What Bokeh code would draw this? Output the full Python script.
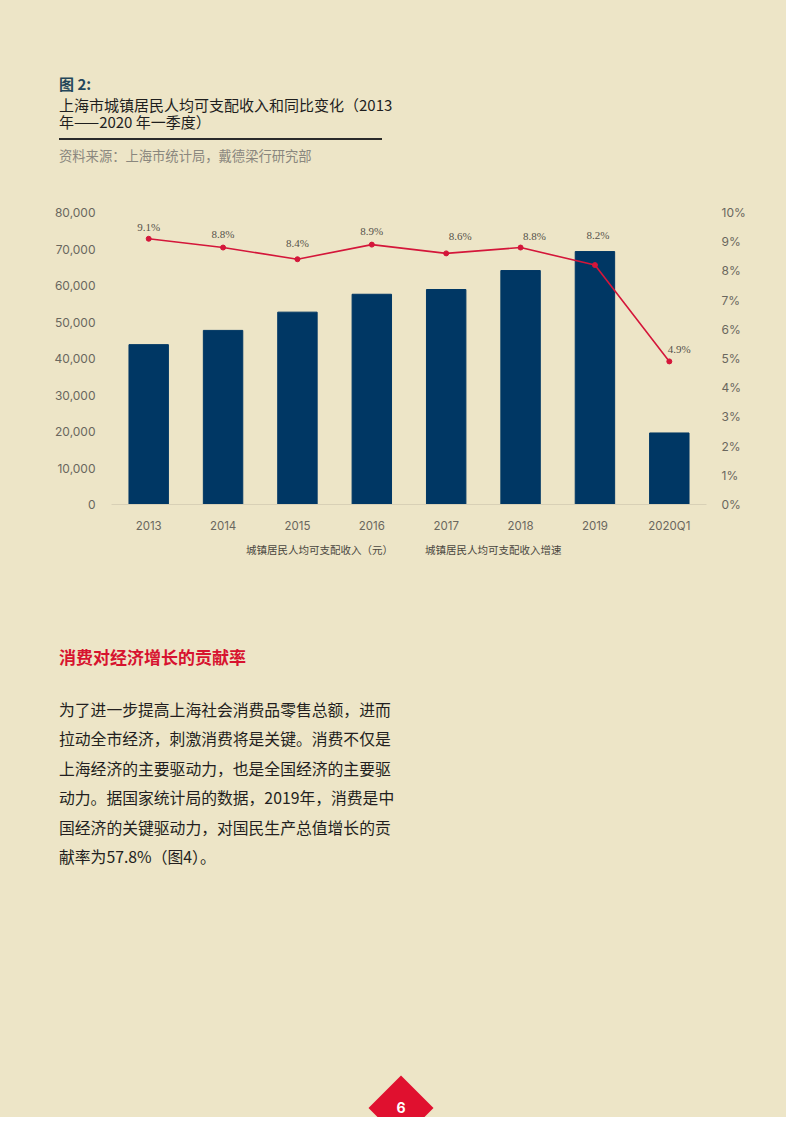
from bokeh.plotting import figure
from bokeh.layouts import column
from bokeh.models import (Range1d, LinearAxis, NumeralTickFormatter, PrintfTickFormatter,
                          FixedTicker, ColumnDataSource, LabelSet, Legend, LegendItem, Div,
                          CDSView, IndexFilter)
from bokeh.embed import file_html
from bokeh.resources import INLINE

# ---------------- data ----------------
categories = ["2013", "2014", "2015", "2016", "2017", "2018", "2019", "2020Q1"]
income = [43800, 47700, 52700, 57600, 58900, 64100, 69300, 19600]
growth = [9.1, 8.8, 8.4, 8.9, 8.6, 8.8, 8.2, 4.9]
growth_labels = ["9.1%", "8.8%", "8.4%", "8.9%", "8.6%", "8.8%", "8.2%", "4.9%"]
left_ticks = [0, 10000, 20000, 30000, 40000, 50000, 60000, 70000, 80000]
right_ticks = [0, 1, 2, 3, 4, 5, 6, 7, 8, 9, 10]
series_names = ["城镇居民人均可支配收入（元）", "城镇居民人均可支配收入增速"]

fig_label = "图 2:"
title_lines = ["上海市城镇居民人均可支配收入和同比变化（2013", "年——2020 年一季度）"]
source_text = "资料来源：上海市统计局，戴德梁行研究部"
section_title = "消费对经济增长的贡献率"
body_lines = [
    "为了进一步提高上海社会消费品零售总额，进而",
    "拉动全市经济，刺激消费将是关键。消费不仅是",
    "上海经济的主要驱动力，也是全国经济的主要驱",
    "动力。据国家统计局的数据，2019年，消费是中",
    "国经济的关键驱动力，对国民生产总值增长的贡",
    "献率为57.8%（图4）。",
]
page_number = "6"

# label offsets (style only)
label_dx = [0, 0, 0, 0, 14, 14, 3, 10]
label_dy = [6, 8, 10, 8, 11, 6, 24, 6]

# ---------------- style ----------------
BG = "#ede5c7"
NAVY = "#003764"
RED = "#d4163a"
TICK = "#6a675e"
CJK = "Noto Sans CJK SC"
NUM = "Inter"

W, H = 786, 1117
TOP_H = 190            # header block: 0..190
CH_END = 535           # chart block: 190..535
LG_END = 566           # legend block: 535..566
FL, FT = 111, 212      # frame left / top (page px)
FW, FH = 595, 295
FR = W - FL - FW


def abs_text(x, y, txt, size, color, weight="normal", lh=None):
    lh = lh or round(size * 1.1, 1)
    return (f'<div style="position:absolute;left:{x}px;top:{y - lh / 2:.1f}px;'
            f'font-family:\'{CJK}\';font-size:{size}px;line-height:{lh}px;'
            f'color:{color};font-weight:{weight};white-space:nowrap;">{txt}</div>')


# ---------------- header ----------------
y0 = 0
hdr = [abs_text(59, 84 - y0, fig_label, 15, "#24465a", "bold")]
for i, t in enumerate(title_lines):
    hdr.append(abs_text(59, 104.5 + 17.5 * i - y0, t, 15, "#1e1e1e", lh=14))
hdr.append(f'<div style="position:absolute;left:59px;top:{138.3 - y0}px;width:323px;'
           f'height:1.4px;background:#2a2a2a;"></div>')
hdr.append(abs_text(59, 156 - y0, source_text, 13.3, "#8a877e"))
top = Div(text=(f'<div style="position:relative;width:{W}px;height:{TOP_H}px;'
                f'background:{BG};overflow:hidden;">' + "".join(hdr) + "</div>"),
          width=W, height=TOP_H, margin=0)

# ---------------- chart ----------------
src = ColumnDataSource(dict(cat=categories, income=income, growth=growth,
                            lab=growth_labels, dx=label_dx, dy=label_dy))
CH_H = CH_END - TOP_H
p = figure(width=W, height=CH_H, x_range=categories, y_range=Range1d(0, 80000),
           output_backend="svg", toolbar_location=None,
           min_border_left=FL, min_border_right=FR,
           min_border_top=FT - TOP_H, min_border_bottom=CH_H - (FT - TOP_H) - FH,
           background_fill_color=BG, border_fill_color=BG, outline_line_color=None,
           margin=0, styles={"background-color": BG})
p.grid.visible = False
p.extra_y_ranges = {"pct": Range1d(0, 10)}

bars = p.vbar(x="cat", top="income", width=0.53, source=src, color=NAVY)
line = p.line(x="cat", y="growth", y_range_name="pct", source=src, color=RED, line_width=1.6)
pts = p.scatter(x="cat", y="growth", y_range_name="pct", source=src, color=RED, size=5)

p.add_layout(LabelSet(x="cat", y="growth", y_range_name="pct", text="lab", source=src,
                      x_offset="dx", y_offset="dy", text_align="center",
                      text_baseline="bottom", text_font=NUM, text_font_size="11px",
                      text_color="#55524a"))

p.yaxis.ticker = FixedTicker(ticks=left_ticks)
p.yaxis.formatter = NumeralTickFormatter(format="0,0")
ra = LinearAxis(y_range_name="pct", ticker=FixedTicker(ticks=right_ticks),
                formatter=PrintfTickFormatter(format="%d%%"))
p.add_layout(ra, "right")
for ax in [p.yaxis[0], ra]:
    ax.axis_line_color = None
    ax.major_tick_line_color = None
    ax.minor_tick_line_color = None
    ax.major_label_text_font = NUM
    ax.major_label_text_font_size = "12px"
    ax.major_label_text_color = TICK
    ax.major_label_standoff = 10
ra.major_label_standoff = 9
xa = p.xaxis[0]
xa.axis_line_color = "#d8d0b6"
xa.major_tick_line_color = None
xa.minor_tick_line_color = None
xa.major_label_text_font = NUM
xa.major_label_text_font_size = "11.5px"
xa.major_label_text_color = TICK
xa.major_label_standoff = 8

# ---------------- legend strip ----------------
# same data and glyph styles, but an empty view: only the legend swatches are drawn
LG_H = LG_END - CH_END
lg = figure(width=W, height=LG_H, x_range=categories, y_range=Range1d(0, 80000),
            output_backend="svg", toolbar_location=None,
            x_axis_location=None, y_axis_location=None,
            min_border_left=FL, min_border_right=FR, min_border_top=0, min_border_bottom=0,
            background_fill_color=BG, border_fill_color=BG, outline_line_color=None,
            margin=0, styles={"background-color": BG})
lg.grid.visible = False
lg.extra_y_ranges = {"pct": Range1d(0, 10)}
lb = lg.vbar(x="cat", top="income", width=0.53, source=src, color=NAVY,
             view=CDSView(filter=IndexFilter(indices=[])))
ll = lg.line(x="cat", y="growth", y_range_name="pct", source=src, color=RED, line_width=1.6,
             view=CDSView(filter=IndexFilter(indices=[])))
lp = lg.scatter(x="cat", y="growth", y_range_name="pct", source=src, color=RED, size=5,
                view=CDSView(filter=IndexFilter(indices=[])))
legend = Legend(items=[LegendItem(label=series_names[0], renderers=[lb]),
                       LegendItem(label=series_names[1], renderers=[ll, lp])],
                orientation="horizontal", location=(226 - FL, 9),
                background_fill_alpha=0, border_line_color=None,
                label_text_font=CJK, label_text_font_size="10.5px", label_text_color="#4a4740",
                glyph_width=18, glyph_height=8, label_standoff=2, spacing=12,
                padding=0, margin=0, label_height=14)
lg.add_layout(legend)

# ---------------- body ----------------
y0 = LG_END
BOT_H = H - LG_END
body = [abs_text(59, 657 - y0, section_title, 17, "#d7132f", "bold")]
for i, t in enumerate(body_lines):
    body.append(abs_text(59, 710 + 29.4 * i - y0, t, 15.8, "#231f20", lh=20))
cx, cy = 401, 1108
side = 46
body.append(f'<div style="position:absolute;left:{cx - side / 2}px;top:{cy - y0 - side / 2}px;'
            f'width:{side}px;height:{side}px;background:#e0102f;'
            f'transform:rotate(45deg);"></div>')
body.append(f'<div style="position:absolute;left:{cx - 20}px;top:{cy - y0 - 10}px;width:40px;'
            f'height:20px;line-height:20px;text-align:center;color:white;font-weight:bold;'
            f'font-family:\'{NUM}\';font-size:14px;">{page_number}</div>')
bot = Div(text=(f'<div style="position:relative;width:{W}px;height:{BOT_H}px;'
                f'background:{BG};overflow:hidden;">' + "".join(body) + "</div>"),
          width=W, height=BOT_H, margin=0)

page = column(top, p, lg, bot, spacing=0)
html = file_html(page, INLINE)
html = html.replace("<body>", f'<body style="background:{BG};">', 1)
open("out.html", "w").write(html)
